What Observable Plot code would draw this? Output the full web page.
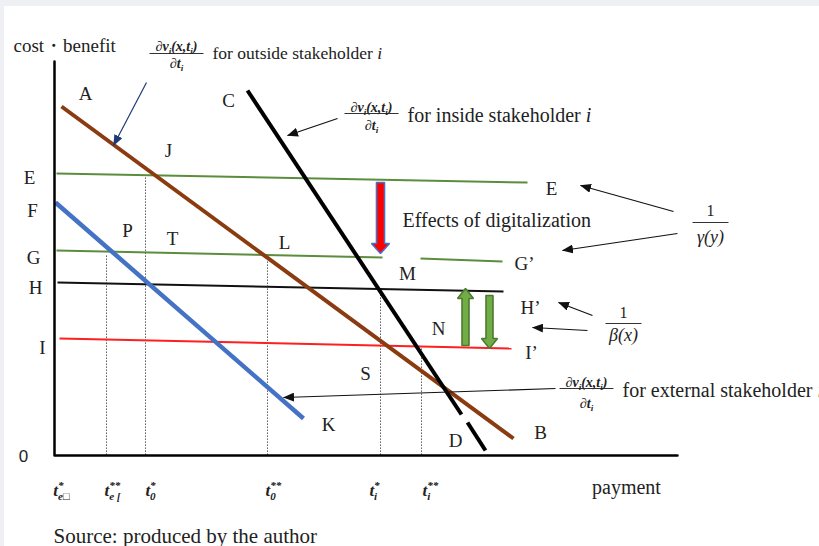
<!DOCTYPE html>
<html><head><meta charset="utf-8">
<script src="https://cdn.jsdelivr.net/npm/d3@7"></script>
<script src="https://cdn.jsdelivr.net/npm/@observablehq/plot@0.6"></script>
<style>
html,body{margin:0;padding:0;background:#fff;}
#wrap{position:relative;width:819px;height:546px;overflow:hidden;}
#wrap svg{display:block;}
.strip{position:absolute;background:#eff0f3;}
</style></head>
<body><div id="wrap"></div>
<script>
// ---------- data (diagram units: payment → x, cost・benefit → y) ----------
// straight schedules
const scheduleNames = ["AB", "CD", "CD2", "E", "G", "G2", "H", "I", "FK"];
const scheduleX1 = [6, 192, 412, 1, 1, 365, 2, 4, 0];
const scheduleY1 = [349, 365, 33, 282, 205, 197, 173, 117, 253];
const scheduleX2 = [458, 406, 430, 472, 327, 447, 448, 456, 248];
const scheduleY2 = [17, 41, 5, 273, 198, 194, 164, 107, 37];

// axes extents
const axisTop = 394;
const axisEnd = 622;

// dotted drops to the payment axis
const dropX = [51, 90, 212, 325, 366];
const dropTop = [200, 280, 198, 163, 107];

// payment tick labels
const tickLabels = ["t^{*}_{e□}", "t^{**}_{e [}", "t^{*}_{0}", "t^{**}_{0}", "t^{*}_{i}", "t^{**}_{i}"];
const tickX = [6, 57, 95, 218, 319, 375];
const tickY = -35;

// level labels on the cost・benefit axis
const levelNames = ["E", "F", "G", "H", "I"];
const levelX = [-26, -23, -22, -20, -13];
const levelY = [278, 245, 198, 168, 108];

// point labels
const pointNames = ["A", "J", "C", "P", "T", "L", "M", "N", "S", "K", "D", "B", "E", "G’", "H’", "I’"];
const pointX = [30, 113, 173, 72, 117, 229, 352, 383, 310, 273, 400, 485, 496, 469, 475, 476];
const pointY = [362, 305, 355, 225, 217, 213, 182, 127, 82, 31, 15, 23, 267, 192, 148, 103];

// marginal value fractions and their descriptions
const fracNum = ["∂v_{i}(x,t_{i})", "∂v_{i}(x,t_{i})", "∂v_{i}(x,t_{i})"];
const fracDen = ["∂t_{i}", "∂t_{i}", "∂t_{i}"];
const fracX = [121, 316, 531];
const fracNumY = [409, 348, 73];
const fracBarY = [402, 342, 67];
const fracDenY = [392, 330, 52];
const fracText = ["for outside stakeholder *{i}", "for inside stakeholder *{i}", "for external stakeholder *{i}"];
const fracTextX = [157, 352, 567];
const fracTextY = [402, 340, 65];

// reciprocal fractions
const recipNum = ["1", "1"];
const recipDen = ["γ(y)", "β(x)"];
const recipX = [655, 568];
const recipNumY = [245, 143];
const recipBarY = [233, 132];
const recipDenY = [218, 120];

// pointer arrows [from → to]
const pointerX1 = [91, 282, 618, 622, 537, 532, 500];
const pointerY1 = [373, 337, 244, 222, 140, 125, 67];
const pointerX2 = [58, 232, 525, 507, 503, 477, 228];
const pointerY2 = [310, 320, 270, 205, 153, 128, 58];

// shift arrows (digitalization, β shifts)
const shiftX = [325, 410, 434];
const shiftFrom = [273, 110, 160];
const shiftTo = [202, 167, 107];

// other texts
const yTitle = "cost・benefit";
const xTitle = "payment";
const effectText = "Effects of digitalization";
const sourceText = "Source: produced by the author";

// ---------- styles ----------
const SERIF = "'Liberation Serif', 'Times New Roman', serif";
const MATH = "'Liberation Serif', 'Times New Roman', serif";
const INK = "#222";
const schedStyle = {
  AB: {stroke: "#8a3b10", w: 4},
  CD: {stroke: "#000", w: 4},
  CD2: {stroke: "#000", w: 4},
  E: {stroke: "#5b8d3c", w: 2},
  G: {stroke: "#5b8d3c", w: 2},
  G2: {stroke: "#5b8d3c", w: 2},
  H: {stroke: "#111", w: 2},
  I: {stroke: "#ff1f1f", w: 2},
  FK: {stroke: "#4472c4", w: 4.5}
};
const shiftStyle = [
  {fill: "#ff0000", stroke: "#4472c4", sw: 8, hw: 18, hl: 10},
  {fill: "#70ad47", stroke: "#4e7a30", sw: 7, hw: 16, hl: 10},
  {fill: "#70ad47", stroke: "#4e7a30", sw: 7, hw: 16, hl: 10}
];

// ---------- build tables ----------
const schedules = scheduleNames.map((name, i) => ({name, x1: scheduleX1[i], y1: scheduleY1[i], x2: scheduleX2[i], y2: scheduleY2[i]}));
const drops = dropX.map((x, i) => ({x, top: dropTop[i], bottom: 0}));
const axisPts = [{x: -1, y: axisTop}, {x: -1, y: 0}, {x: axisEnd, y: 0}];
const ticks = tickLabels.map((t, i) => ({t, x: tickX[i], y: tickY}));
const levels = levelNames.map((t, i) => ({t, x: levelX[i], y: levelY[i]}));
const points = pointNames.map((t, i) => ({t, x: pointX[i], y: pointY[i]}));
const fracs = fracNum.map((n, i) => ({n, d: fracDen[i], x: fracX[i], ny: fracNumY[i], by: fracBarY[i], dy: fracDenY[i], t: fracText[i], tx: fracTextX[i], ty: fracTextY[i]}));
const recips = recipNum.map((n, i) => ({n, d: recipDen[i], x: recipX[i], ny: recipNumY[i], by: recipBarY[i], dy: recipDenY[i]}));
const pointers = pointerX1.map((x1, i) => ({x1, y1: pointerY1[i], x2: pointerX2[i], y2: pointerY2[i], navy: i === 0}));

function blockArrow(x, from, to, s) {
  const d = Math.sign(to - from), yb = to - d * s.hl;
  return [[x - s.sw / 2, from], [x - s.sw / 2, yb], [x - s.hw / 2, yb], [x, to], [x + s.hw / 2, yb],
          [x + s.sw / 2, yb], [x + s.sw / 2, from], [x - s.sw / 2, from]].map(([x, y]) => ({x, y}));
}

const marks = [];
marks.push(Plot.ruleX(drops, {x: "x", y1: "bottom", y2: "top", stroke: "#666", strokeWidth: 1, strokeDasharray: "1.6,1.4"}));
for (const name of ["E", "G", "G2", "H", "I", "FK", "AB", "CD", "CD2"]) {
  const s = schedules.find(d => d.name === name), st = schedStyle[name];
  marks.push(Plot.link([s], {x1: "x1", y1: "y1", x2: "x2", y2: "y2", stroke: st.stroke, strokeWidth: st.w}));
}
marks.push(Plot.line(axisPts, {x: "x", y: "y", stroke: "#000", strokeWidth: 2.5}));
shiftX.forEach((x, i) => {
  const s = shiftStyle[i];
  marks.push(Plot.line(blockArrow(x, shiftFrom[i], shiftTo[i], s), {x: "x", y: "y", fill: s.fill, stroke: s.stroke, strokeWidth: 1.6, strokeLinejoin: "miter"}));
});
marks.push(Plot.link(pointers.filter(d => !d.navy), {x1: "x1", y1: "y1", x2: "x2", y2: "y2", stroke: "#111", strokeWidth: 1.2, className: "ptr-black"}));
marks.push(Plot.link(pointers.filter(d => d.navy), {x1: "x1", y1: "y1", x2: "x2", y2: "y2", stroke: "#203a78", strokeWidth: 1.2, className: "ptr-navy"}));

// fraction bars
marks.push(Plot.link(fracs, {x1: d => d.x - 27, x2: d => d.x + 27, y1: "by", y2: "by", stroke: "#333", strokeWidth: 1}));
marks.push(Plot.link(recips, {x1: d => d.x - 18, x2: d => d.x + 18, y1: "by", y2: "by", stroke: "#333", strokeWidth: 1.2}));

// texts
marks.push(Plot.text(fracs, {x: "x", y: "ny", text: "n", fontFamily: MATH, fontStyle: "italic", fontWeight: "bold", fontSize: 14, fill: INK, className: "rich"}));
marks.push(Plot.text(fracs, {x: "x", y: "dy", text: "d", fontFamily: MATH, fontStyle: "italic", fontWeight: "bold", fontSize: 14, fill: INK, className: "rich"}));
marks.push(Plot.text(fracs.slice(0, 1), {x: "tx", y: "ty", text: "t", textAnchor: "start", fontFamily: SERIF, fontSize: 17.5, fill: INK, className: "rich"}));
marks.push(Plot.text(fracs.slice(1), {x: "tx", y: "ty", text: "t", textAnchor: "start", fontFamily: SERIF, fontSize: 20, fill: INK, className: "rich"}));
marks.push(Plot.text(recips, {x: "x", y: "ny", text: "n", fontFamily: SERIF, fontSize: 16, fill: INK}));
marks.push(Plot.text(recips, {x: "x", y: "dy", text: "d", fontFamily: SERIF, fontStyle: "italic", fontSize: 18, fill: INK}));
marks.push(Plot.text(points, {x: "x", y: "y", text: "t", fontFamily: SERIF, fontSize: 19, fill: INK}));
marks.push(Plot.text(levels, {x: "x", y: "y", text: "t", fontFamily: SERIF, fontSize: 19, fill: INK}));
marks.push(Plot.text([{t: "0", x: -32, y: -1}], {x: "x", y: "y", text: "t", fontFamily: "'Liberation Sans', Arial, sans-serif", fontSize: 17, fill: INK}));
marks.push(Plot.text(ticks, {x: "x", y: "y", text: "t", fontFamily: SERIF, fontStyle: "italic", fontWeight: "bold", fontSize: 17, fill: INK, className: "rich"}));
marks.push(Plot.text([{t: yTitle, x: -42, y: 410}], {x: "x", y: "y", text: "t", textAnchor: "start", fontFamily: SERIF, fontSize: 19, fill: INK}));
marks.push(Plot.text([{t: xTitle, x: 571, y: -32}], {x: "x", y: "y", text: "t", fontFamily: SERIF, fontSize: 20, fill: INK}));
marks.push(Plot.text([{t: effectText, x: 347, y: 235}], {x: "x", y: "y", text: "t", textAnchor: "start", fontFamily: SERIF, fontSize: 20, fill: INK}));
marks.push(Plot.text([{t: sourceText, x: -2, y: -81}], {x: "x", y: "y", text: "t", textAnchor: "start", fontFamily: SERIF, fontSize: 21, fill: INK}));

const svg = Plot.plot({
  width: 819, height: 546, margin: 0,
  x: {domain: [-55, 764], axis: null},
  y: {domain: [-91, 455], axis: null},
  style: {background: "white"},
  marks
});
const wrap = document.getElementById("wrap");
wrap.appendChild(svg);

// ---------- rich text (sub/superscripts, italics) ----------
function parseRich(s) {
  const segs = []; let buf = ""; let i = 0;
  while (i < s.length) {
    const c = s[i];
    if ((c === "_" || c === "^" || c === "*") && s[i + 1] === "{") {
      if (buf) { segs.push({t: buf, k: "n"}); buf = ""; }
      const j = s.indexOf("}", i);
      segs.push({t: s.slice(i + 2, j), k: c === "_" ? "sub" : c === "^" ? "sup" : "it"});
      i = j + 1;
    } else { buf += c; i++; }
  }
  if (buf) segs.push({t: buf, k: "n"});
  return segs;
}
const NS = "http://www.w3.org/2000/svg";
svg.querySelectorAll("g.rich text").forEach(el => {
  const fs = parseFloat(getComputedStyle(el).fontSize) || 12;
  const segs = parseRich(el.textContent);
  el.textContent = "";
  let cur = 0, lastSup = null;
  for (const sg of segs) {
    const ts = document.createElementNS(NS, "tspan");
    ts.textContent = sg.t;
    const target = sg.k === "sup" ? -0.4 * fs : sg.k === "sub" ? 0.25 * fs : 0;
    if (target !== cur) ts.setAttribute("dy", target - cur);
    cur = target;
    if (sg.k === "sup" || sg.k === "sub") ts.setAttribute("font-size", 0.65 * fs);
    if (sg.k === "it") ts.setAttribute("font-style", "italic");
    el.appendChild(ts);
    if (sg.k === "sub" && lastSup) ts.setAttribute("dx", -lastSup.getComputedTextLength());
    lastSup = sg.k === "sup" ? ts : null;
  }
});

// ---------- filled arrowheads ----------
const defs = document.createElementNS(NS, "defs");
[["ah-black", "#111"], ["ah-navy", "#203a78"]].forEach(([id, col]) => {
  const m = document.createElementNS(NS, "marker");
  m.setAttribute("id", id); m.setAttribute("viewBox", "0 0 11 9");
  m.setAttribute("refX", "10.5"); m.setAttribute("refY", "4.5");
  m.setAttribute("markerUnits", "userSpaceOnUse");
  m.setAttribute("markerWidth", "11"); m.setAttribute("markerHeight", "9");
  m.setAttribute("orient", "auto");
  const p = document.createElementNS(NS, "path");
  p.setAttribute("d", "M0,0L11,4.5L0,9Z"); p.setAttribute("fill", col);
  m.appendChild(p); defs.appendChild(m);
});
svg.insertBefore(defs, svg.firstChild);
svg.querySelectorAll("g.ptr-black path").forEach(p => p.setAttribute("marker-end", "url(#ah-black)"));
svg.querySelectorAll("g.ptr-navy path").forEach(p => p.setAttribute("marker-end", "url(#ah-navy)"));

// page frame strips
[["0px", "0px", "819px", "6px"], ["0px", "0px", "4px", "546px"]].forEach(([l, t, w, h]) => {
  const d = document.createElement("div");
  d.className = "strip";
  Object.assign(d.style, {left: l, top: t, width: w, height: h});
  wrap.appendChild(d);
});
</script></body></html>
